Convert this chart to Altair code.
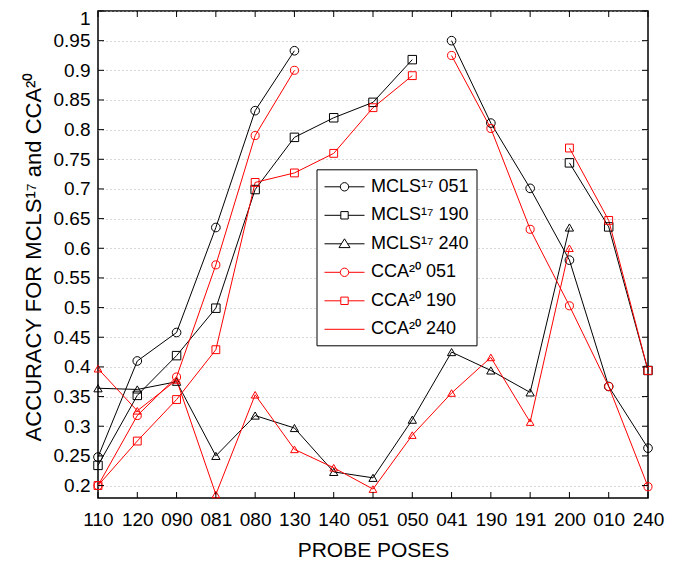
import altair as alt
import pandas as pd

poses = ["110", "120", "090", "081", "080", "130", "140", "051", "050",
         "041", "190", "191", "200", "010", "240"]

series_names = ["MCLS¹⁷ 051", "MCLS¹⁷ 190", "MCLS¹⁷ 240",
                "CCA²⁰ 051", "CCA²⁰ 190", "CCA²⁰ 240"]

mcls_051 = [0.248, 0.410, 0.458, 0.635, 0.832, 0.933, None, None, None,
            0.950, 0.811, 0.701, 0.580, 0.367, 0.263]
mcls_190 = [0.234, 0.352, 0.419, 0.499, 0.699, 0.787, 0.820, 0.846, 0.918,
            None, None, None, 0.744, 0.636, 0.394]
mcls_240 = [0.364, 0.362, 0.375, 0.250, 0.318, 0.297, 0.223, 0.213, 0.311,
            0.425, 0.394, 0.357, 0.635, None, None]
cca_051 = [0.200, 0.318, 0.383, 0.572, 0.790, 0.900, None, None, None,
           0.925, 0.802, 0.632, 0.503, 0.367, 0.198]
cca_190 = [0.200, 0.275, 0.345, 0.429, 0.711, 0.727, 0.760, 0.837, 0.891,
           None, None, None, 0.769, 0.647, 0.394]
cca_240 = [0.397, 0.326, 0.378, 0.185, 0.353, 0.261, 0.230, 0.194, 0.285,
           0.356, 0.416, 0.307, 0.600, None, None]

all_series = [mcls_051, mcls_190, mcls_240, cca_051, cca_190, cca_240]
colors = ["#000000", "#000000", "#000000", "#ff0000", "#ff0000", "#ff0000"]
marker_shapes = ["circle", "square", "triangle-up", "circle", "square", "triangle-up"]
marker_sizes = [75, 58, 100, 75, 58, 100]
y_ticks = [round(0.2 + 0.05 * i, 2) for i in range(17)]

# legend symbols: line with marker (10 px per unit at symbolSize 400)
CIRC = "M-2,0H-0.42M0.42,0H2M0.42,0A0.42,0.42,0,1,1,-0.42,0A0.42,0.42,0,1,1,0.42,0Z"
SQR = "M-2,0H-0.37M0.37,0H2M-0.37,-0.37H0.37V0.37H-0.37Z"
TRI = "M-2,0H-0.3M0.3,0H2M0,-0.5L0.55,0.38L-0.55,0.38Z"
LINE = "M-2,0H2"
legend_shapes = [CIRC, SQR, TRI, CIRC, SQR, LINE]

rows = []
for name, vals in zip(series_names, all_series):
    seg = 0
    for i, (p, v) in enumerate(zip(poses, vals)):
        if v is None:
            seg += 1
            continue
        rows.append({"series": name, "pose": p, "idx": i, "value": v,
                     "seg": f"{name}-{seg}"})
df = pd.DataFrame(rows)

W, H = 550, 487
FONT = "Liberation Sans"

x_scale = alt.Scale(type="point", padding=0, domain=poses)
y_scale = alt.Scale(domain=[0.179, 1.0], nice=False, zero=False)

x_axis = alt.Axis(title="PROBE POSES", labelAngle=0, ticks=False, tickSize=0,
                  domain=False, grid=False, labelFontSize=19, labelFont=FONT,
                  labelBaseline="alphabetic", labelPadding=27,
                  labelOverlap=False, labelColor="#000",
                  titleFontSize=21, titleFont=FONT,
                  titleFontWeight="normal", titleColor="#000",
                  titleY=58, titleBaseline="alphabetic")
y_axis = alt.Axis(title="ACCURACY FOR MCLS¹⁷ and CCA²⁰", values=y_ticks,
                  format="~g", ticks=False, tickSize=0, domain=False,
                  grid=True, gridDash=[1, 3], gridColor="#b0b0b0",
                  labelFontSize=19, labelFont=FONT, labelPadding=8,
                  labelOverlap=False, labelFlush=True, labelFlushOffset=2,
                  labelColor="#000", titleFontSize=22, titleFont=FONT,
                  titleFontWeight="normal", titleColor="#000",
                  titleX=-58, titleY=H / 2 + 2, titleAngle=270,
                  titleBaseline="alphabetic", titleAlign="center")

x_enc = alt.X("pose:O", sort=poses, scale=x_scale, axis=x_axis)
y_enc = alt.Y("value:Q", scale=y_scale, axis=y_axis)

color_scale = alt.Scale(domain=series_names, range=colors)

base = alt.Chart(df)

lines = base.mark_line(strokeWidth=1).encode(
    x=x_enc, y=y_enc,
    color=alt.Color("series:N", scale=color_scale, legend=None),
    detail="seg:N",
    order=alt.Order("idx:Q"),
)

points = base.mark_point(filled=False, strokeWidth=1, opacity=1).encode(
    x=x_enc, y=y_enc,
    color=alt.Color("series:N", scale=color_scale, legend=None),
    shape=alt.Shape("series:N", scale=alt.Scale(domain=series_names, range=marker_shapes),
                    legend=None),
    size=alt.Size("series:N", scale=alt.Scale(domain=series_names, range=marker_sizes),
                  legend=None),
)

leg = alt.Legend(title=None, orient="none", legendX=218.5, legendY=158.3,
                 strokeColor="#000", fillColor="#fff", padding=7,
                 labelFontSize=18, labelFont=FONT, labelColor="#000",
                 symbolSize=400, symbolStrokeWidth=1, symbolOffset=10.5,
                 labelOffset=16, rowPadding=8.5, symbolOpacity=1, cornerRadius=0)

legend_layer = base.mark_point(filled=False).encode(
    x=x_enc, y=y_enc,
    color=alt.Color("series:N", scale=alt.Scale(domain=series_names, range=colors),
                    legend=leg),
    shape=alt.Shape("series:N", scale=alt.Scale(domain=series_names, range=legend_shapes),
                    legend=leg),
).transform_filter("false")

pose_df = pd.DataFrame({"pose": poses})
ytick_df = pd.DataFrame({"value": y_ticks})

top_ticks = alt.Chart(pose_df).mark_rule(color="#000", strokeWidth=1).encode(
    x=x_enc, y=alt.value(0), y2=alt.value(6))
bot_ticks = alt.Chart(pose_df).mark_rule(color="#000", strokeWidth=1).encode(
    x=x_enc, y=alt.value(H), y2=alt.value(H - 6))
left_ticks = alt.Chart(ytick_df).mark_rule(color="#000", strokeWidth=1).encode(
    y=y_enc, x=alt.value(0), x2=alt.value(6))
right_ticks = alt.Chart(ytick_df).mark_rule(color="#000", strokeWidth=1).encode(
    y=y_enc, x=alt.value(W - 6), x2=alt.value(W))

chart = alt.layer(
    lines, points, top_ticks, bot_ticks, left_ticks, right_ticks, legend_layer
).resolve_scale(
    shape="independent", color="independent"
).properties(
    width=W, height=H,
    autosize=alt.AutoSizeParams(type="none"),
    padding={"left": 90, "top": 3, "right": 20, "bottom": 66},
    background="#ffffff",
).configure_view(stroke="#000", strokeWidth=1.5)

chart.save("out.html", embed_options={"renderer": "svg", "actions": False})
